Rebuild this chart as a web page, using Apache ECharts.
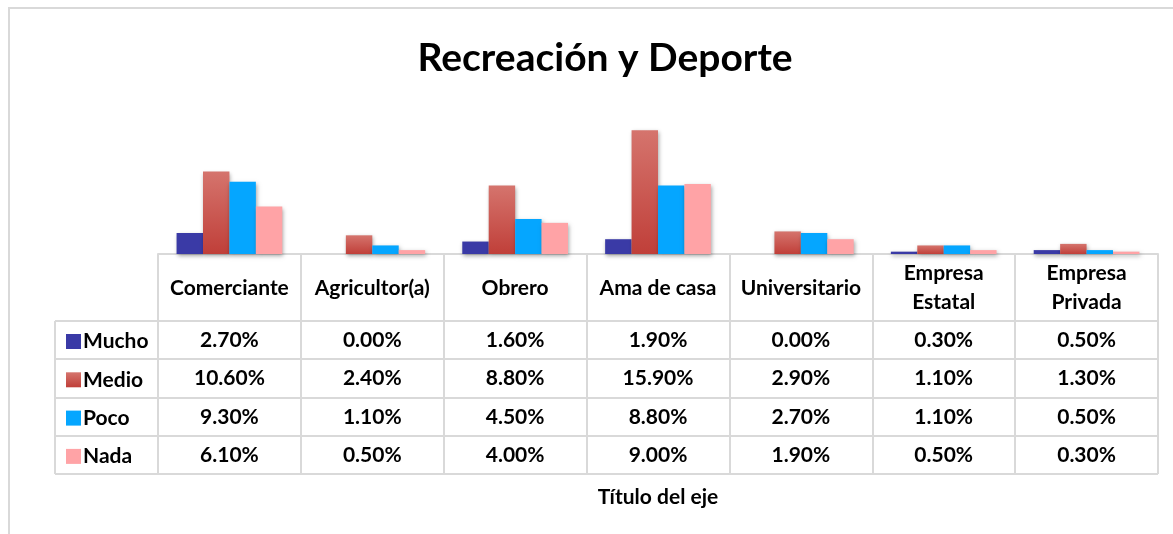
<!DOCTYPE html>
<html>
<head>
<meta charset="utf-8">
<script src="https://cdn.jsdelivr.net/npm/echarts@6/dist/echarts.min.js"></script>
<style>
  html, body { margin: 0; padding: 0; background: #fff; }
  #chart { width: 1173px; height: 534px; }
</style>
</head>
<body>
<div id="chart"></div>
<script>
const categories = ['Comerciante', 'Agricultor(a)', 'Obrero', 'Ama de casa', 'Universitario', 'Empresa Estatal', 'Empresa Privada']
const seriesNames = ['Mucho', 'Medio', 'Poco', 'Nada']
const mucho = [2.7, 0.0, 1.6, 1.9, 0.0, 0.3, 0.5]
const medio = [10.6, 2.4, 8.8, 15.9, 2.9, 1.1, 1.3]
const poco = [9.3, 1.1, 4.5, 8.8, 2.7, 1.1, 0.5]
const nada = [6.1, 0.5, 4.0, 9.0, 1.9, 0.5, 0.3]

const FONT = 'Lato'
const TXT = 21
const gridLeft = 158
const gridRight = 15
const baseY = 254
const rowLines = [321, 359, 398, 436, 474]
const tableLeft = 55
const lineColor = '#d9d9d9'

const colors = [
  '#3a3aa6',
  new echarts.graphic.LinearGradient(0, 0, 0, 1, [
    { offset: 0, color: '#d5746d' },
    { offset: 1, color: '#c03f39' }
  ]),
  '#05a6ff',
  '#ffa3a6'
]
const values = [mucho, medio, poco, nada]

const myChart = echarts.init(document.getElementById('chart'))

function pct (v) {
  return v.toFixed(2) + '%'
}

// un eje x extra por cada fila de la tabla
const rowAxes = values.map((arr, i) => {
  const mid = (rowLines[i] + rowLines[i + 1]) / 2
  return {
    type: 'category',
    gridIndex: 0,
    position: 'bottom',
    data: categories,
    axisLine: { show: false },
    axisTick: { show: false },
    axisLabel: {
      interval: 0,
      margin: mid - baseY,
      verticalAlign: 'middle',
      fontFamily: FONT,
      fontWeight: 'bold',
      fontSize: TXT,
      color: '#000',
      formatter: (val, idx) => pct(arr[idx])
    }
  }
})

const tableLines = rowLines.map(y => ({
  type: 'line',
  shape: { x1: tableLeft, y1: y, x2: 1173 - gridRight, y2: y },
  style: { stroke: lineColor, lineWidth: 2 },
  silent: true
}))
tableLines.push({
  type: 'line',
  shape: { x1: tableLeft, y1: rowLines[0], x2: tableLeft, y2: rowLines[rowLines.length - 1] },
  style: { stroke: lineColor, lineWidth: 2 },
  silent: true
})

const option = {
  backgroundColor: '#fff',
  animation: false,
  title: {
    text: 'Recreación y Deporte',
    left: 600,
    top: 34,
    textAlign: 'center',
    textStyle: { fontFamily: FONT, fontWeight: 'bold', fontSize: 39, color: '#000' }
  },
  legend: {
    orient: 'vertical',
    left: 61,
    top: 326,
    itemWidth: 15,
    itemHeight: 15,
    itemGap: 17.3,
    icon: 'rect',
    data: seriesNames,
    textStyle: { fontFamily: FONT, fontWeight: 'bold', fontSize: TXT, lineHeight: 18, color: '#000', padding: [0, 0, 0, -3] }
  },
  graphic: [
    {
      type: 'rect',
      shape: { x: 9, y: 8, width: 1300, height: 700 },
      style: { fill: 'none', stroke: lineColor, lineWidth: 2 },
      silent: true,
      z: -10
    }
  ].concat(tableLines),
  grid: { left: gridLeft, right: gridRight, top: 129.5, bottom: 534 - baseY },
  xAxis: [
    {
      type: 'category',
      data: categories,
      name: 'Título del eje',
      nameLocation: 'middle',
      nameGap: 233,
      nameTextStyle: { fontFamily: FONT, fontWeight: 'bold', fontSize: 21, color: '#000' },
      axisLine: { show: true, lineStyle: { color: lineColor, width: 2 } },
      axisTick: {
        show: true,
        alignWithLabel: false,
        length: rowLines[rowLines.length - 1] - baseY,
        lineStyle: { color: lineColor, width: 2 }
      },
      axisLabel: {
        interval: 0,
        margin: 34,
        verticalAlign: 'middle',
        lineHeight: 29,
        fontFamily: FONT,
        fontWeight: 'bold',
        fontSize: TXT,
        color: '#000',
        formatter: v => v.replace('Empresa ', 'Empresa\n')
      }
    }
  ].concat(rowAxes),
  yAxis: {
    type: 'value',
    min: 0,
    max: 16,
    show: false,
    splitLine: { show: false }
  },
  series: seriesNames.map((name, i) => ({
    name: name,
    type: 'bar',
    data: values[i],
    barGap: '0%',
    barCategoryGap: '26%',
    itemStyle: {
      color: colors[i],
      shadowBlur: 4,
      shadowOffsetX: 1,
      shadowOffsetY: 2,
      shadowColor: 'rgba(0,0,0,0.35)'
    }
  }))
}

myChart.setOption(option)
</script>
</body>
</html>
